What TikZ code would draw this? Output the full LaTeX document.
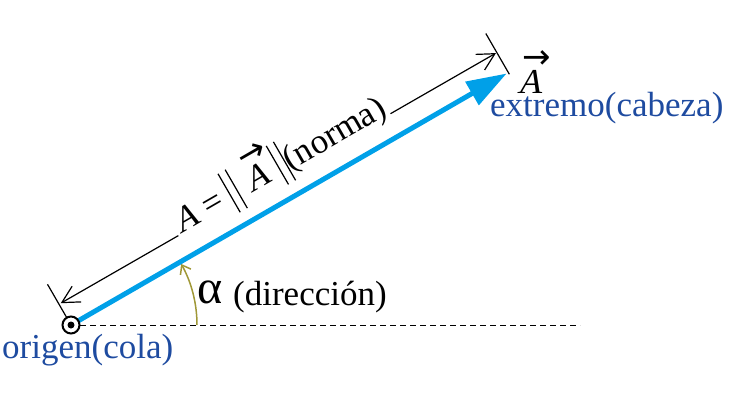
\documentclass[tikz,border=0pt]{standalone}
\usepackage{fontspec}
\setmainfont{Liberation Serif}
\newfontfamily\symfont{DejaVu Sans}
\newfontfamily\itfont{Liberation Serif}[FakeSlant=0.22]
\usetikzlibrary{arrows.meta,calc}
\definecolor{vecblue}{RGB}{0,160,232}
\definecolor{lblblue}{RGB}{30,75,160}
\definecolor{olivearc}{RGB}{160,152,55}
\newcommand\dbar{\rule[-0.3em]{0.035em}{1.27em}\hspace{0.2em}\rule[-0.3em]{0.035em}{1.27em}}
\newcommand\vecA{\leavevmode\rlap{\raisebox{0.7em}{\hspace{0.15em}{\fontsize{34}{34}\symfont →}}}{\itfont A}}
\tikzset{
  lbl/.style={inner sep=0pt, font=\fontsize{35}{40}\selectfont},
  dimline/.style={draw=black, line width=1.2pt},
  dimtip/.style={-{Straight Barb[length=17pt,width=18pt,line width=1.2pt]}},
}
\begin{document}
\begin{tikzpicture}[x=1pt,y=1pt]
\useasboundingbox (0,0) rectangle (734,-400);
\coordinate (O) at (71,-325);
\coordinate (T) at ($(O)+(30:503)$);
% dashed reference line
\coordinate (D1) at (80,-325);
\coordinate (D2) at (580,-325);
\draw[dashed, dash pattern=on 6pt off 4pt, line width=0.8pt] (D1) -- (D2);
% dimension line
\coordinate (L1) at ($(O)+(30:2)+(120:24)$);
\coordinate (L2) at ($(O)+(30:504)+(120:23)$);
\coordinate (M) at ($(O)+(30:260)+(120:23.5)$);
\draw[dimline, dimtip] (M) -- (L1);
\draw[dimline, dimtip] (M) -- (L2);
% ticks
\coordinate (K1a) at ($(O)+(120:4)$);
\coordinate (K1b) at ($(O)+(120:47)$);
\coordinate (K2a) at ($(O)+(30:505)+(120:-2)$);
\coordinate (K2b) at ($(O)+(30:505)+(120:45)$);
\draw[line width=1.2pt] (K1a) -- (K1b);
\draw[line width=1.2pt] (K2a) -- (K2b);
% norm label
\node[lbl, rotate=30, fill=white, inner xsep=2pt, inner ysep=3pt, anchor=base] (norm) at (M)
  {{\itfont A} = \dbar\hspace{0.3em}\vecA\hspace{0.3em}\dbar(norma)};
% angle arc
\coordinate (R0) at ($(O)+(0:126)$);
\draw[olivearc, line width=1.5pt, -{Straight Barb[length=8pt,width=12pt,line width=1.5pt]}]
  (R0) arc[start angle=0, end angle=29, radius=126];
% blue vector
\draw[vecblue, line width=5pt, -{Triangle[length=40pt,width=26pt]}, shorten <=8pt] (O) -- (T);
% origin symbol
\draw[line width=2pt, fill=white] (O) circle (8.5pt);
\fill (O) circle (3.5pt);
% labels
\node[lbl, anchor=base west, text=lblblue] (origen) at (2,-358) {origen(cola)};
\node[lbl, anchor=base west, text=lblblue] (extremo) at (490,-116) {extremo(cabeza)};
\node[lbl, anchor=base west] (vec) at (517,-93) {\vecA};
\node[lbl, anchor=base west] (alpha) at (197,-303) {{\fontsize{48}{48}\selectfont α}};
\node[lbl, anchor=base west] (dir) at (233,-305) {(dirección)};
\end{tikzpicture}
\end{document}
